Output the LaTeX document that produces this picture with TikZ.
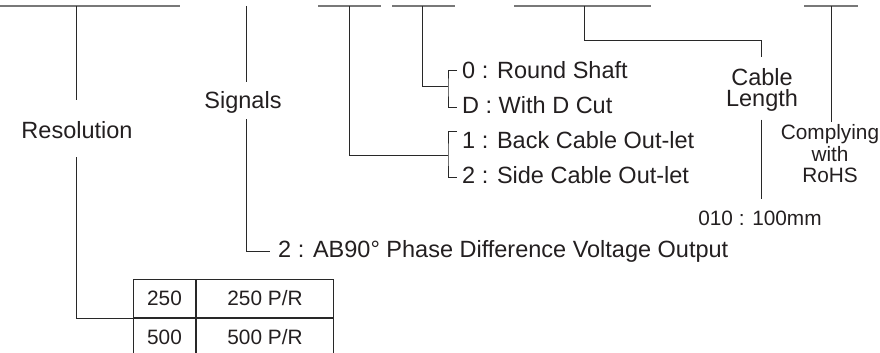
\documentclass[tikz,border=0pt]{standalone}
\usepackage{fontspec}
\setmainfont{Liberation Sans}
\definecolor{textcol}{RGB}{35,31,32}
\definecolor{barcol}{RGB}{120,120,120}
\definecolor{leadcol}{RGB}{40,40,40}
\usetikzlibrary{positioning, calc}

\tikzset{
  bar/.style={barcol, line width=1.6pt},
  lead/.style={leadcol, line width=0.8pt},
  bigtxt/.style={font=\fontsize{23.5}{21}\selectfont, text=textcol, inner sep=0pt},
  smalltxt/.style={font=\fontsize{20.8}{21.5}\selectfont, text=textcol, inner sep=0pt},
  cell/.style={draw=leadcol, line width=1pt, font=\fontsize{20.8}{22}\selectfont,
               text=textcol, minimum height=38pt, inner sep=0pt, anchor=north west},
}

\begin{document}
\begin{tikzpicture}[x=1pt, y=-1pt]
  \useasboundingbox (0,0) rectangle (880,353);

  % Code field bars
  \foreach \n/\a/\b/\s in
    {res/0/180/76, out/318/381/349, shaft/392/455/422,
     len/514/651/584, rohs/804/858/831} {
    \draw[bar] (\a,6) -- (\b,6);
    \coordinate (\n) at (\s,6);
  }
  \coordinate (sig) at (246,6);

  % Resolution
  \node[bigtxt, anchor=base] (resolution) at (77,138) {Resolution};
  \node[cell, minimum width=62pt] (c250) at (133,279) {250};
  \node[cell, minimum width=137pt, right=0pt of c250, anchor=north west]
    (p250) at (c250.north east) {250 P/R};
  \node[cell, minimum width=62pt] (c500) at (c250.south west) {500};
  \node[cell, minimum width=137pt] (p500) at (c500.north east) {500 P/R};
  \draw[lead, shorten >=21pt] (res) -- (res |- resolution.north);
  \draw[lead, shorten <=19pt] (res |- resolution.south) |- (c250.south west);

  % Signals
  \node[bigtxt, anchor=base] (signals) at (243,108) {Signals};
  \node[bigtxt, anchor=base west] (phase) at (278,257)
    {2 : AB90° Phase Difference Voltage Output};
  \draw[lead, shorten >=9pt] (sig) -- (sig |- signals.north);
  \draw[lead, shorten <=6pt, shorten >=8pt] (sig |- signals.south) |- (phase.west);

  % Shaft and cable out-let
  \foreach \n/\y/\t in
    {r0/78/0 : Round Shaft, rD/113/D : With D Cut,
     o1/148/1 : Back Cable Out-let, o2/183/2 : Side Cable Out-let} {
    \node[bigtxt, anchor=base west] (\n) at (462,\y) {\t};
  }
  \coordinate (rtop) at (457,70);
  \coordinate (rbot) at (457,107);
  \coordinate (rjoin) at (448,86);
  \coordinate (otop) at (457,131);
  \coordinate (obot) at (457,177);
  \coordinate (ojoin) at (448,155);
  \draw[lead] (rtop) -| (rjoin) |- (rbot);
  \draw[lead] (otop) -| (ojoin) |- (obot);
  \draw[lead] (shaft) |- (rjoin);
  \draw[lead] (out) |- (ojoin);

  % Cable length
  \coordinate (lenturn) at (761,40);
  \node[bigtxt, align=center] (cablelen) at (762,90) {Cable\\Length};
  \node[smalltxt, anchor=base] (len010) at (760,225) {010 : 100mm};
  \draw[lead, shorten >=11pt] (len) |- (lenturn) -- (lenturn |- cablelen.north);
  \draw[lead, shorten <=8pt, shorten >=11pt]
    (lenturn |- cablelen.south) -- (lenturn |- len010.north);

  % RoHS
  \node[smalltxt, align=center] (rohstxt) at (830,154) {Complying\\with\\RoHS};
  \draw[lead, shorten >=3pt] (rohs) -- (rohs |- rohstxt.north);

\end{tikzpicture}
\end{document}
